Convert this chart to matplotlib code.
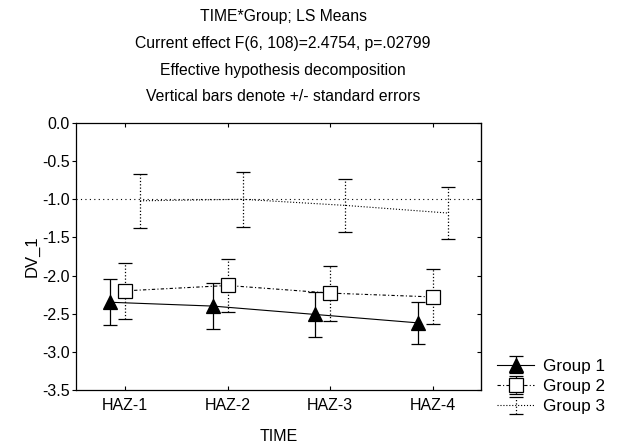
import matplotlib
matplotlib.use("Agg")
import matplotlib.pyplot as plt
import numpy as np

plt.rcParams['font.family'] = ['Liberation Sans', 'DejaVu Sans']

# LS means and standard errors per time point
times = ["HAZ-1", "HAZ-2", "HAZ-3", "HAZ-4"]
groups = ["Group 1", "Group 2", "Group 3"]
g1_mean = [-2.35, -2.40, -2.51, -2.62]
g1_se = [0.30, 0.30, 0.29, 0.28]
g2_mean = [-2.20, -2.13, -2.23, -2.28]
g2_se = [0.37, 0.35, 0.36, 0.36]
g3_mean = [-1.02, -1.00, -1.08, -1.18]
g3_se = [0.35, 0.36, 0.35, 0.345]
ref_level = -1.0

title_lines = [
    "TIME*Group; LS Means",
    "Current effect F(6, 108)=2.4754, p=.02799",
    "Effective hypothesis decomposition",
    "Vertical bars denote +/- standard errors",
]

fig = plt.figure(figsize=(6.22, 4.44), dpi=100)
ax = fig.add_axes([76 / 622, 1 - 390 / 444, (481 - 76) / 622, (390 - 123) / 444])

x = np.arange(len(times))
offsets = [-0.145, 0.0, 0.145]
means = [g1_mean, g2_mean, g3_mean]
ses = [g1_se, g2_se, g3_se]
styles = [
    dict(marker="^", ms=10, mfc="black", mec="black", ls="-", elw_ls="-"),
    dict(marker="s", ms=9.5, mfc="white", mec="black", ls=(0, (3, 2, 1, 2)), elw_ls=":"),
    dict(marker="", ms=0, mfc="none", mec="black", ls=":", elw_ls=":"),
]

ax.axhline(ref_level, color="black", lw=0.8, ls=(0, (1, 3)), zorder=1)

handles = []
for name, off, m, s, st in zip(groups, offsets, means, ses, styles):
    cont = ax.errorbar(x + off, m, yerr=s, color="black", lw=0.8,
                       ls=st["ls"], marker=st["marker"], ms=st["ms"],
                       mfc=st["mfc"], mec=st["mec"], mew=0.9,
                       elinewidth=0.9, capsize=5, capthick=0.9,
                       label=name, zorder=3)
    for col in cont[2]:
        col.set_linestyle(st["elw_ls"])
    handles.append(cont)

yt = np.arange(-3.5, 0.01, 0.5)
ax.set_xlim(-0.48, 3.47)
ax.set_ylim(-3.5, 0.0)
ax.set_xticks(x)
ax.set_xticklabels(times)
ax.set_yticks(yt)
ax.set_yticklabels([f"{v:.1f}" for v in yt])
ax.tick_params(axis="both", labelsize=11.5, length=3, width=0.8, color="black")
ax.tick_params(axis="x", direction="in", top=True, pad=6)
ax.tick_params(axis="y", direction="out", pad=1.5, left=True, right=False)
ax2 = ax.secondary_yaxis("right")
ax2.set_yticks(yt)
ax2.tick_params(direction="in", length=3, labelright=False)
for sp in ax.spines.values():
    sp.set_linewidth(0.9)

ax.set_xlabel("TIME", fontsize=11.5, labelpad=11)
ax.set_ylabel("DV_1", fontsize=12, labelpad=2)

for i, line in enumerate(title_lines):
    fig.text(283 / 622, 1 - (17 + 26.5 * i) / 444, line, ha="center", va="center",
             fontsize=11.3)

fig.legend(handles=handles, labels=groups, loc="upper left",
           bbox_to_anchor=(490 / 622, 1 - 352 / 444), frameon=False,
           fontsize=12.3, handlelength=2.2, handletextpad=0.5, labelspacing=0.3,
           borderaxespad=0.0)

fig.savefig("out.png", dpi=100)
